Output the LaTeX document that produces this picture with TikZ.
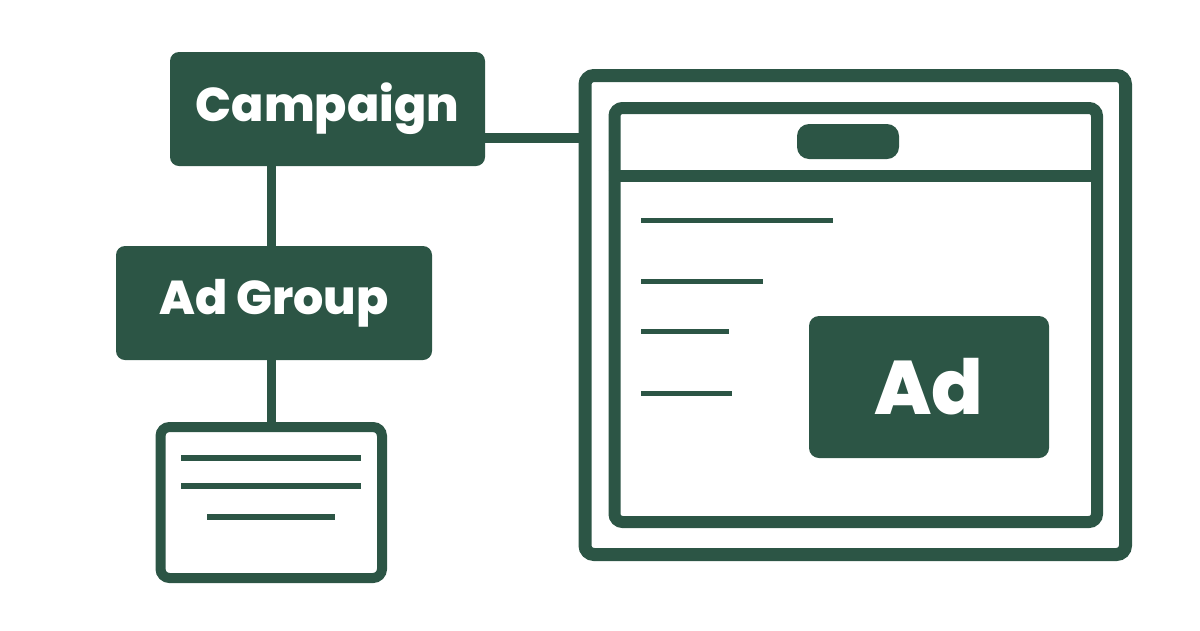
\documentclass[tikz,border=0pt]{standalone}
\usepackage{fontspec}
\setmainfont{Poppins}[BoldFont={* ExtraBold}]
\definecolor{pine}{HTML}{2C5545}
\tikzset{
	box/.style={fill=pine,text=white,rounded corners=9pt,inner sep=0pt,font=\bfseries\fontsize{47.5}{50}\selectfont},
	frame/.style={draw=pine,rounded corners=9pt,inner sep=0pt},
	link/.style={draw=pine,line width=9.5pt},
	textline/.style={draw=pine,line width=5pt},
}
\begin{document}
\begin{tikzpicture}[x=1pt,y=-1pt]
	\useasboundingbox (0,0) rectangle (1200,630);
	% left hierarchy
	\node[box,minimum width=315pt,minimum height=114pt] (camp) at (327.5,109) {Campaign};
	\node[box,minimum width=316pt,minimum height=114pt] (adgroup) at (274,303) {Ad Group};
	\node[frame,line width=10pt,minimum width=221.5pt,minimum height=151pt] (card) at (271.25,502.5) {};
	\draw[link] (card.north |- camp.south) -- (card.north |- adgroup.north);
	\draw[link] (adgroup.south -| card.north) -- (card.north);
	\draw[pine,line width=6pt] (181,458) -- (361,458);
	\draw[pine,line width=6pt] (181,486) -- (361,486);
	\draw[pine,line width=6pt] (207,516.5) -- (335,516.5);
	% browser window
	\node[frame,line width=13pt,minimum width=540.5pt,minimum height=479pt] (win) at (855.25,315) {};
	\node[frame,line width=12pt,rounded corners=8pt,minimum width=482.5pt,minimum height=414pt] (page) at (855.75,315) {};
	\draw[pine,line width=12pt] (page.west |- 0,175.5) -- (page.east |- 0,175.5);
	\node[fill=pine,rounded corners=12pt,minimum width=102pt,minimum height=35pt,inner sep=0pt] (bar) at (848,141.5) {};
	\draw[link] ([yshift=-29pt]camp.east) -- ([yshift=-29pt]camp.east -| win.west);
	\draw[textline] (641,220.5) -- (833,220.5);
	\draw[textline] (641,281) -- (763,281);
	\draw[textline] (641,331) -- (729,331);
	\draw[textline] (641,393.5) -- (732,393.5);
	\node[box,rounded corners=10pt,minimum width=240pt,minimum height=142pt,font=\bfseries\fontsize{76}{80}\selectfont] (ad) at (929,387) {Ad};
\end{tikzpicture}
\end{document}
